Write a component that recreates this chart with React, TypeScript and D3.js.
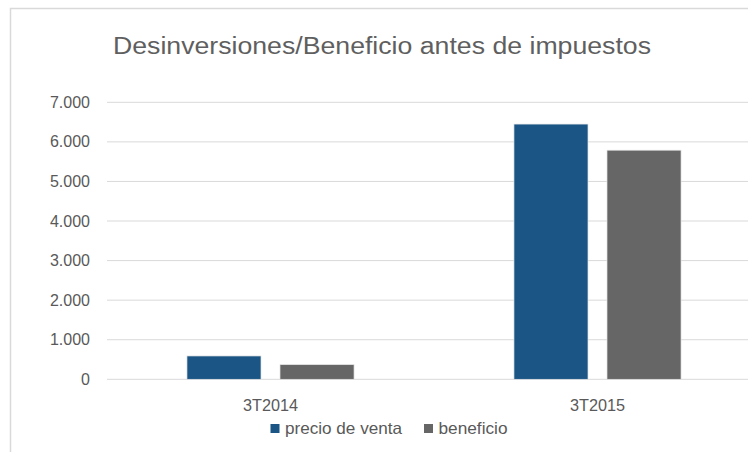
import React from 'react';
import * as d3 from 'd3';

// values
const categories = ['3T2014', '3T2015'];
const seriesNames = ['precio de venta', 'beneficio'];
const seriesColors = ['#1a5585', '#666666'];
const precioVenta = [590, 6450];
const beneficio = [370, 5790];
const yTicks = [0, 1000, 2000, 3000, 4000, 5000, 6000, 7000];

const W = 748;
const H = 452;
const font = "'Liberation Sans', Arial, sans-serif";

const fmt = (v: number) => d3.format(',')(v).replace(/,/g, '.');

export default function App() {
  const x0 = d3.scaleBand<string>().domain(categories).range([107, 761]).paddingInner(0.489).paddingOuter(0.2445);
  const x1 = d3.scaleBand<string>().domain(seriesNames).range([0, x0.bandwidth()]).paddingInner(0.204).paddingOuter(0);
  const y = d3.scaleLinear().domain([0, 7000]).range([379.3, 102.3]);

  const values = [precioVenta, beneficio];
  const legendX = [270.5, 424];
  const legendW = [117, 69];

  return (
    <svg width={W} height={H} style={{ position: 'absolute', left: 0, top: 0, background: '#fff' }}>
      <rect x={0} y={0} width={W} height={H} fill="#fff" />
      {/* chart frame, cut off on the right and bottom */}
      <path d={`M10.5,${H} V8.5 H${W}`} fill="none" stroke="#d9d9d9" strokeWidth={1.5} />

      <text x={382} y={54} textAnchor="middle" fontFamily={font} fontSize={23} fill="#5f5f5f"
        textLength={538} lengthAdjust="spacingAndGlyphs">
        Desinversiones/Beneficio antes de impuestos
      </text>

      {yTicks.map((t) => (
        <g key={t}>
          <line x1={107} x2={761} y1={y(t)} y2={y(t)} stroke="#d9d9d9" strokeWidth={1} />
          <text x={90} y={y(t)} dy="0.35em" textAnchor="end" fontFamily={font} fontSize={16} fill="#595959">
            {fmt(t)}
          </text>
        </g>
      ))}

      {categories.map((c, i) => (
        <g key={c} transform={`translate(${x0(c)},0)`}>
          {seriesNames.map((s, j) => (
            <rect key={s} x={x1(s)} y={y(values[j][i])} width={x1.bandwidth()}
              height={y(0) - y(values[j][i])} fill={seriesColors[j]} stroke="#e6e6e6" strokeWidth={0.7} />
          ))}
          <text x={x0.bandwidth() / 2} y={405} dy="0.35em" textAnchor="middle" fontFamily={font} fontSize={16} fill="#595959"
            textLength={55} lengthAdjust="spacingAndGlyphs">
            {c}
          </text>
        </g>
      ))}

      {/* legend */}
      {seriesNames.map((s, j) => (
        <g key={s}>
          <rect x={legendX[j]} y={424} width={9} height={9} fill={seriesColors[j]} />
          <text x={legendX[j] + 14.5} y={428.5} dy="0.35em" fontFamily={font} fontSize={16.5} fill="#595959"
            textLength={legendW[j]} lengthAdjust="spacingAndGlyphs">
            {s}
          </text>
        </g>
      ))}
    </svg>
  );
}
